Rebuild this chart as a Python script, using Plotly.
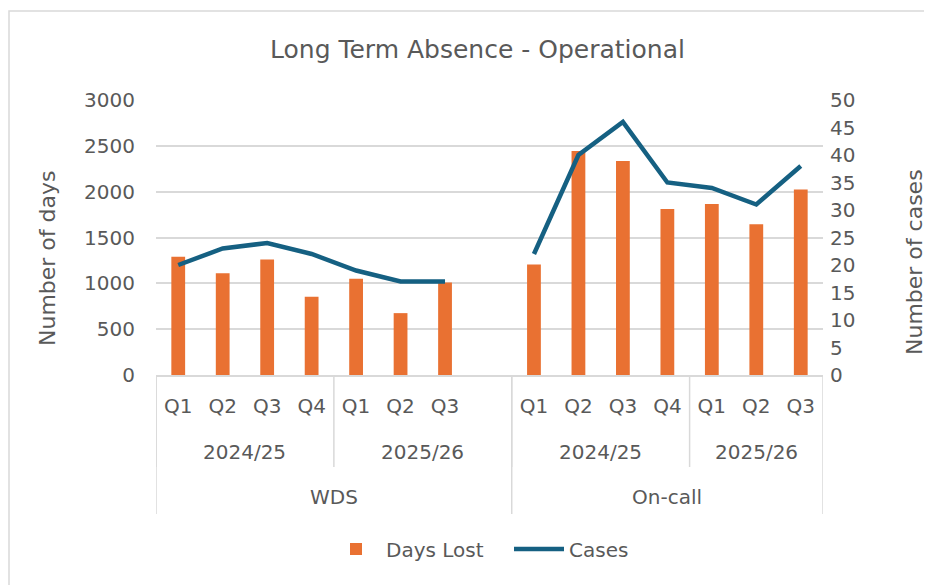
import plotly.graph_objects as go

# ---- data ----
groups = ["WDS"] * 8 + ["On-call"] * 7
years = ["2024/25"] * 4 + ["2025/26"] * 4 + ["2024/25"] * 4 + ["2025/26"] * 3
quarters = ["Q1", "Q2", "Q3", "Q4", "Q1", "Q2", "Q3", "",
            "Q1", "Q2", "Q3", "Q4", "Q1", "Q2", "Q3"]
days_lost = [1290, 1110, 1260, 855, 1050, 675, 1010, None,
             1205, 2445, 2335, 1810, 1865, 1645, 2025]
cases = [20, 23, 24, 22, 19, 17, 17, None,
         22, 40, 46, 35, 34, 31, 38]

FONT = "DejaVu Sans"
TXT = "#595959"
GRID = "#d9d9d9"
BAR_C = "#E97132"
LINE_C = "#156082"

x = list(range(len(quarters)))

fig = go.Figure()
fig.add_trace(go.Bar(x=x, y=days_lost, name="Days Lost", marker_color=BAR_C,
                     marker_line_width=0, yaxis="y"))
fig.add_trace(go.Scatter(x=x, y=cases, name="Cases", mode="lines",
                         line=dict(color=LINE_C, width=4.5), connectgaps=False,
                         yaxis="y2"))

# page offset of the figure inside the browser window (body margin)
OX, OY = 8, 8
W, H = 932, 585
PL, PR, PT, PB = 156, 823, 100, 375   # plot area in screen pixels
ml, mt = PL - OX, PT - OY
mr = W - (PR - OX)
mb = H - (PB - OY)
ph = PB - PT
pw = PR - PL


def py(sy):
    return (PB - sy) / ph


def px(sx):
    return (sx - PL) / pw


def spans(labels_a, labels_b=None):
    out = []
    start = 0
    n = len(labels_a)
    for i in range(1, n + 1):
        key_prev = (labels_a[i - 1], labels_b[i - 1] if labels_b else None)
        key = (labels_a[i], labels_b[i] if labels_b else None) if i < n else None
        if key != key_prev:
            out.append((key_prev[0], start, i - 1))
            start = i
    return out


annotations = []
shapes = []
year_spans = spans(years, groups)
group_spans = spans(groups)
LBL = dict(family=FONT, size=20, color=TXT)

for lab, s, e in year_spans:
    annotations.append(dict(x=(s + e) / 2, y=py(452), xref="x", yref="paper",
                            xanchor="center", yanchor="middle",
                            text=lab, showarrow=False, font=LBL))
for lab, s, e in group_spans:
    annotations.append(dict(x=(s + e) / 2, y=py(497), xref="x", yref="paper",
                            xanchor="center", yanchor="middle",
                            text=lab, showarrow=False, font=LBL))

for lab, s, e in year_spans:
    shapes.append(dict(type="line", xref="x", yref="paper", x0=s - 0.5, x1=s - 0.5,
                       y0=0, y1=py(467), line=dict(color=GRID, width=1.5)))
for lab, s, e in group_spans:
    shapes.append(dict(type="line", xref="x", yref="paper", x0=s - 0.5, x1=s - 0.5,
                       y0=0, y1=py(514), line=dict(color=GRID, width=1.5)))
shapes.append(dict(type="line", xref="x", yref="paper", x0=len(x) - 0.5, x1=len(x) - 0.5,
                   y0=0, y1=py(514), line=dict(color=GRID, width=1.5)))

# outer chart frame
shapes.append(dict(type="rect", xref="paper", yref="paper",
                   x0=px(9), x1=px(990), y0=py(11), y1=py(640),
                   line=dict(color=GRID, width=1.5), layer="below"))

annotations.append(dict(x=px(48), y=py(258), xref="paper", yref="paper",
                        xanchor="center", yanchor="middle",
                        text="Number of days", textangle=-90, showarrow=False,
                        font=dict(family=FONT, size=22, color=TXT)))
annotations.append(dict(x=px(914), y=py(262), xref="paper", yref="paper",
                        xanchor="center", yanchor="middle",
                        text="Number of cases", textangle=-90, showarrow=False,
                        font=dict(family=FONT, size=22, color=TXT)))
annotations.append(dict(x=px(477), y=py(50), xref="paper", yref="paper",
                        xanchor="center", yanchor="middle",
                        text="Long Term Absence - Operational", showarrow=False,
                        font=dict(family=FONT, size=25, color=TXT)))

fig.update_layout(
    width=W, height=H,
    margin=dict(l=ml, r=mr, t=mt, b=mb),
    paper_bgcolor="white", plot_bgcolor="white",
    bargap=0.69,
    font=dict(family=FONT, size=20, color=TXT),
    showlegend=True,
    legend=dict(orientation="h", x=px(509), xanchor="center", y=py(549), yanchor="middle",
                font=dict(family=FONT, size=20, color=TXT), itemwidth=50,
                entrywidth=118, traceorder="normal"),
    xaxis=dict(range=[-0.5, len(x) - 0.5], tickvals=x, ticktext=quarters,
               showgrid=False, zeroline=False, showline=True, linecolor=GRID,
               linewidth=1.5, ticks="", ticklabelstandoff=12,
               tickfont=LBL, fixedrange=True),
    yaxis=dict(range=[0, 3000], dtick=500, showgrid=True, gridcolor=GRID, gridwidth=1.5,
               zeroline=False, showline=False, ticks="", ticklabelstandoff=20,
               tickfont=LBL),
    yaxis2=dict(range=[0, 50], dtick=5, overlaying="y", side="right", showgrid=False,
                zeroline=False, showline=False, ticks="", ticklabelstandoff=6,
                tickfont=LBL),
    annotations=annotations,
    shapes=shapes,
)

fig.write_html("out.html")
